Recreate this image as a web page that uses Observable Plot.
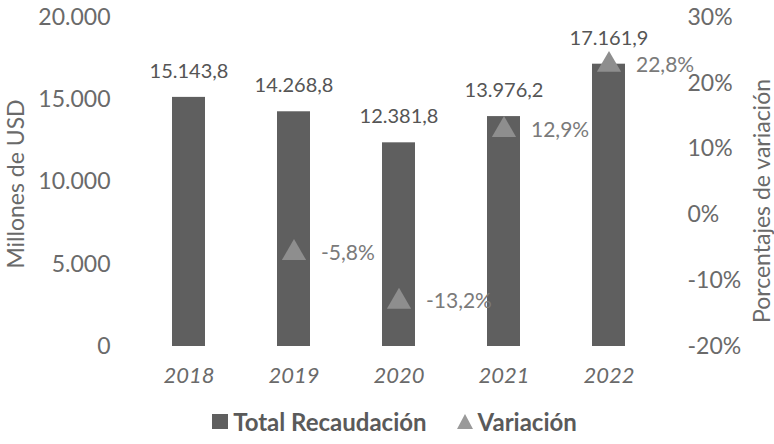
<!DOCTYPE html>
<html><head><meta charset="utf-8">
<script src="https://cdn.jsdelivr.net/npm/d3@7"></script>
<script src="https://cdn.jsdelivr.net/npm/@observablehq/plot@0.6"></script>
<style>
body{margin:0;background:#fff;font-family:Lato,sans-serif;}
#legend{width:774px;height:44px;display:flex;justify-content:center;align-items:center;gap:30px;font-weight:bold;font-size:24px;color:#5a5a5a;box-sizing:border-box;padding-left:15px;padding-bottom:2px;}
#legend span.it{display:flex;align-items:center;gap:5px;}
.sq{display:inline-block;width:16px;height:15px;background:#5f5f5f;}
.tri{display:inline-block;width:0;height:0;border-left:8.5px solid transparent;border-right:8.5px solid transparent;border-bottom:15px solid #9a9a9a;}
</style>
</head><body>
<div id="chart"></div>
<div id="legend"><span class="it"><span class="sq"></span>Total Recaudación</span><span class="it"><span class="tri"></span>Variación</span></div>
<script>
const years = ["2018","2019","2020","2021","2022"];
const recaudacion = [15143.8, 14268.8, 12381.8, 13976.2, 17161.9];
const variacion = [null, -5.8, -13.2, 12.9, 22.8];
const leftTicks = [0, 5000, 10000, 15000, 20000];
const rightTicks = [-20, -10, 0, 10, 20, 30];
const leftTitle = "Millones de USD";
const rightTitle = "Porcentajes de variación";

const loc = d3.formatLocale({decimal: ",", thousands: ".", grouping: [3], currency: ["", ""], minus: "-"});
const fmtInt = loc.format(",.0f");
const fmt1 = loc.format(",.1f");
// map the right (percent) axis onto the left scale domain
const toLeft = p => (p + 20) / 50 * 20000;
const fromLeft = v => v / 20000 * 50 - 20;

const rows = years.map((y, i) => ({year: y, total: recaudacion[i], pct: variacion[i]}));
const pts = rows.filter(d => d.pct != null);

const chart = Plot.plot({
  width: 774,
  height: 400,
  marginTop: 17,
  marginBottom: 54,
  marginLeft: 134,
  marginRight: 112,
  style: {fontFamily: "Lato, sans-serif", fontSize: "20px", color: "#666"},
  x: {domain: years, paddingInner: 0.69, paddingOuter: 0.345},
  y: {domain: [0, 20000]},
  marks: [
    Plot.barY(rows, {x: "year", y: "total", fill: "#5f5f5f"}),
    Plot.text(rows, {x: "year", y: "total", text: d => fmt1(d.total), dy: -26, fontSize: 20, fill: "#555"}),
    Plot.dot(pts, {x: "year", y: d => toLeft(d.pct), symbol: "triangle", r: 9, fill: "#8e8e8e", stroke: "none"}),
    Plot.text(pts, {x: "year", y: d => toLeft(d.pct), text: d => fmt1(d.pct) + "%", textAnchor: "start", dx: 27, fontSize: 21, fill: "#7a7a7a"}),
    Plot.axisY({ticks: leftTicks, tickFormat: fmtInt, tickSize: 0, tickPadding: 24, fontSize: 23, fill: "#6a6a6a", label: null}),
    Plot.axisY({anchor: "right", ticks: rightTicks.map(toLeft), tickFormat: v => Math.round(fromLeft(v)) + "%",
      tickSize: 0, tickPadding: 25, fontSize: 23, fill: "#6a6a6a", label: null}),
    Plot.axisX({tickSize: 0, tickPadding: 21, fontStyle: "italic", fontSize: 22, fill: "#6a6a6a", label: null}),
    Plot.text([leftTitle], {frameAnchor: "left", textAnchor: "middle", rotate: -90, dx: -118, dy: 2, fontSize: 23, fill: "#6a6a6a"}),
    Plot.text([rightTitle], {frameAnchor: "right", textAnchor: "middle", rotate: -90, dx: 100, dy: 19, fontSize: 23, fill: "#6a6a6a"})
  ]
});
document.getElementById("chart").appendChild(chart);
</script>
</body></html>
